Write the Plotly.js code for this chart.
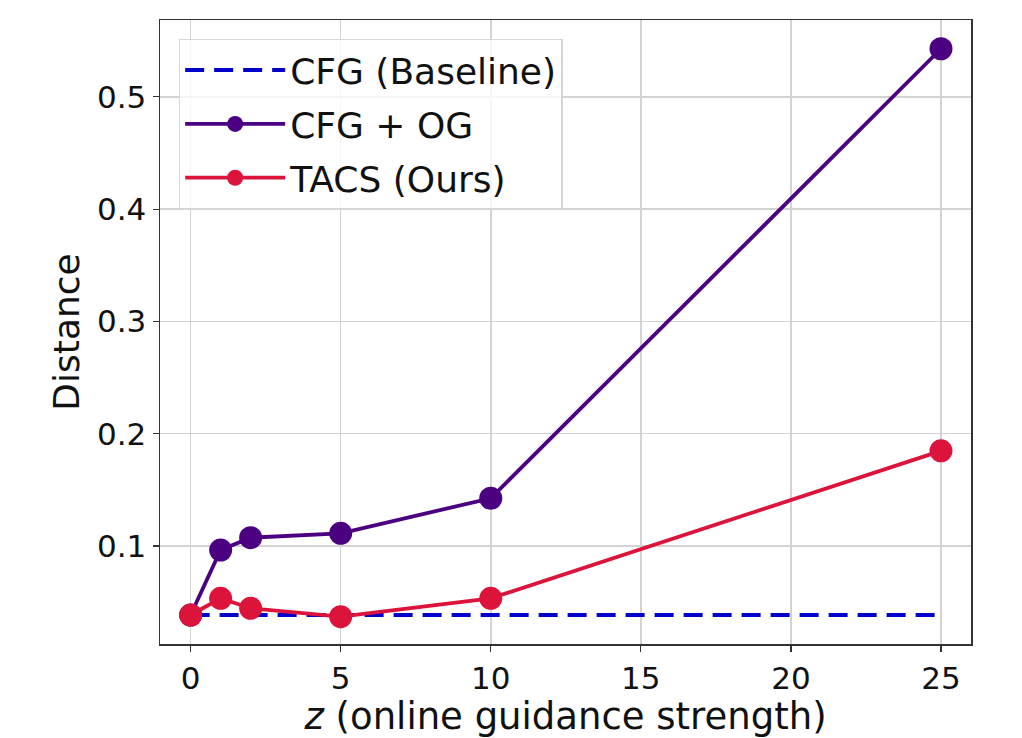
<!DOCTYPE html>
<html>
<head>
<meta charset="utf-8">
<script src="https://cdn.plot.ly/plotly-3.0.1.min.js"></script>
<style>html,body{margin:0;padding:0;background:#fff;}#chart{width:1022px;height:738px;}</style>
</head>
<body>
<div id="chart"></div>
<script>
const zValues = [0, 1, 2, 5, 10, 25];
const baselineDist = [0.0385, 0.0385, 0.0385, 0.0385, 0.0385, 0.0385];
const cfgOgDist = [0.0385, 0.0964, 0.1074, 0.1113, 0.1425, 0.5428];
const tacsDist = [0.0385, 0.0534, 0.0445, 0.0370, 0.0534, 0.1847];
const seriesNames = ["CFG (Baseline)", "CFG + OG", "TACS (Ours)"];
const xTicks = [0, 5, 10, 15, 20, 25];
const yTicks = [0.1, 0.2, 0.3, 0.4, 0.5];

const font = "DejaVu Sans, sans-serif";
const traces = [
  {x: zValues, y: baselineDist, name: seriesNames[0], mode: "lines", legendgroup: "a",
   line: {color: "#0000cd", width: 4, dash: "19px,10px"}},
  {x: zValues, y: cfgOgDist, name: seriesNames[1], mode: "lines+markers", legendgroup: "b",
   line: {color: "#4b0082", width: 3.8}, marker: {color: "#4b0082", size: 23}},
  {x: zValues, y: tacsDist, name: seriesNames[2], mode: "lines+markers", legendgroup: "c",
   line: {color: "#dc143c", width: 3.8}, marker: {color: "#dc143c", size: 23}}
];
const layout = {
  width: 1022, height: 738,
  margin: {l: 159.5, r: 51, t: 19.5, b: 94, pad: 0},
  paper_bgcolor: "#fff", plot_bgcolor: "#fff",
  showlegend: true,
  legend: {x: 0.023, y: 0.97, xanchor: "left", yanchor: "top",
    bgcolor: "rgba(255,255,255,0.8)", bordercolor: "#d6d6d6", borderwidth: 1.5,
    font: {family: font, size: 36, color: "#111"}, traceorder: "grouped", tracegroupgap: 4,
    itemwidth: 100},
  xaxis: {range: [-1.02, 26.0], tickvals: xTicks, ticktext: xTicks.map(String),
    showgrid: true, gridcolor: "#d3d3d3", gridwidth: 1.5, zeroline: false,
    showline: true, mirror: true, linecolor: "#333", linewidth: 1.5,
    ticks: "outside", ticklen: 6, tickwidth: 1.2, tickcolor: "#333",
    tickfont: {family: font, size: 31, color: "#111"},
    title: {text: "<i>z</i> (online guidance strength)", font: {family: font, size: 37, color: "#111"}, standoff: 6}},
  yaxis: {range: [0.0127, 0.5684], tickvals: yTicks, ticktext: yTicks.map(v => v.toFixed(1)),
    showgrid: true, gridcolor: "#d3d3d3", gridwidth: 1.5, zeroline: false,
    showline: true, mirror: true, linecolor: "#333", linewidth: 1.5,
    ticks: "outside", ticklen: 6, tickwidth: 1.2, tickcolor: "#333",
    tickfont: {family: font, size: 31, color: "#111"},
    title: {text: "Distance", font: {family: font, size: 36, color: "#111"}, standoff: 6}}
};
Plotly.newPlot("chart", traces, layout, {staticPlot: true, displayModeBar: false});
</script>
</body>
</html>
